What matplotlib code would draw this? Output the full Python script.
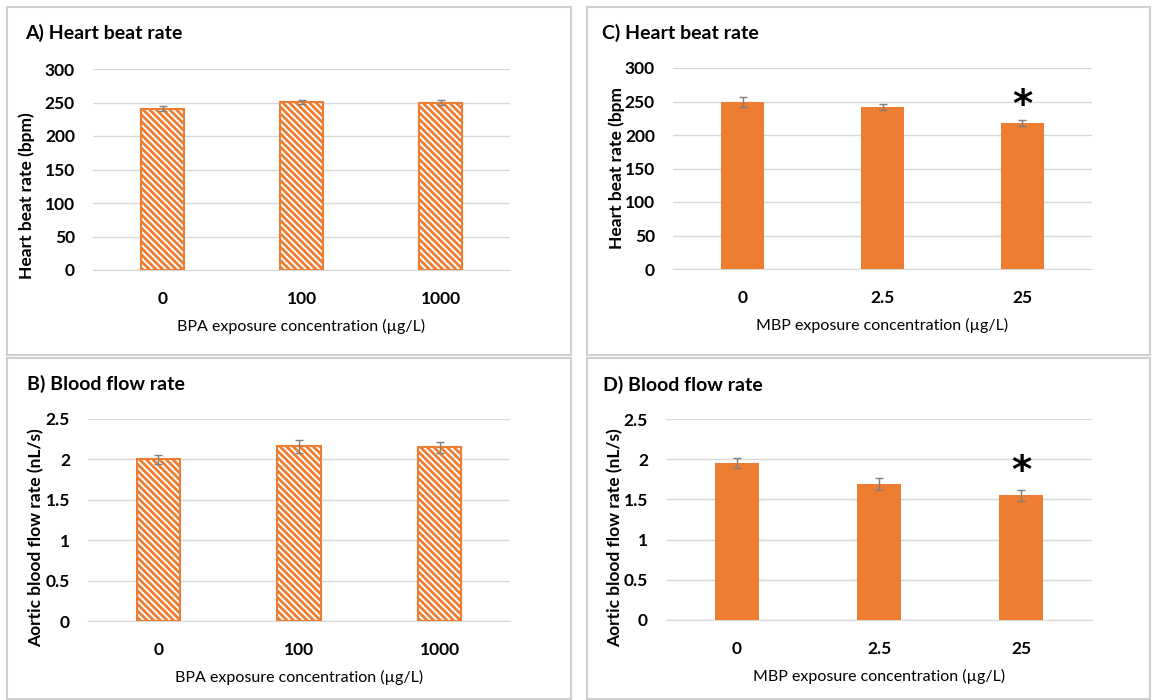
import matplotlib
matplotlib.use('Agg')
import matplotlib.pyplot as plt
from matplotlib.patches import Rectangle

plt.rcParams['font.family'] = ['Lato', 'DejaVu Sans']
plt.rcParams['hatch.linewidth'] = 2.0

# Data
bpa_labels = ['0', '100', '1000']
mbp_labels = ['0', '2.5', '25']

bpa_heart = [241, 251, 250]
bpa_heart_err = [4, 3, 3]
mbp_heart = [249, 242, 218]
mbp_heart_err = [7, 4, 4]

bpa_flow = [2.00, 2.16, 2.15]
bpa_flow_err = [0.06, 0.08, 0.07]
mbp_flow = [1.95, 1.69, 1.55]
mbp_flow_err = [0.06, 0.07, 0.07]

# significance stars (index of bar) for MBP panels
mbp_heart_sig = [2]
mbp_flow_sig = [2]

ORANGE = '#ED7D31'
GRID = '#D9D9D9'
W, H = 1152, 700


def px_axes(fig, x0, y0, x1, y1):
    # axes from pixel box (top-left origin)
    return fig.add_axes([x0 / W, 1 - y1 / H, (x1 - x0) / W, (y1 - y0) / H])


def draw_panel(fig, box, title, title_xy, ylabel, ylabel_xy, xlabel,
               labels, vals, errs, ymax, ystep, hatched, sig=(), sig_off=0.0, yfmt=None):
    ax = px_axes(fig, *box)
    x = list(range(len(vals)))
    if hatched:
        ax.bar(x, vals, width=0.31, facecolor='white', edgecolor=ORANGE,
               hatch='\\' * 5, linewidth=1.5, zorder=3)
    else:
        ax.bar(x, vals, width=0.31, color=ORANGE, zorder=3)
    ax.errorbar(x, vals, yerr=errs, fmt='none', ecolor='#7F7F7F',
                elinewidth=1, capsize=3, capthick=1, zorder=4)
    for i in sig:
        ax.text(i, vals[i] + errs[i] + sig_off, '*', ha='center', va='center',
                fontsize=28, fontweight='bold', family='DejaVu Sans')
    ax.set_xlim(-0.5, len(vals) - 0.5)
    ax.set_ylim(0, ymax)
    ticks = [ystep * k for k in range(int(round(ymax / ystep)) + 1)]
    ax.set_yticks(ticks)
    if yfmt:
        ax.set_yticklabels([yfmt(t) for t in ticks])
    ax.set_xticks(x)
    ax.set_xticklabels(labels)
    ax.grid(axis='y', color=GRID, linewidth=1, zorder=0)
    for s in ['top', 'right', 'left']:
        ax.spines[s].set_visible(False)
    ax.spines['bottom'].set_color(GRID)
    ax.tick_params(length=0, labelsize=12.5)
    ax.tick_params(axis='y', pad=13)
    ax.tick_params(axis='x', pad=15)
    for t in ax.get_xticklabels() + ax.get_yticklabels():
        t.set_fontweight('bold')
    ax.set_xlabel(xlabel, fontsize=11.5, labelpad=9)
    fig.text(title_xy[0] / W, 1 - title_xy[1] / H, title, fontsize=14,
             fontweight='bold', ha='left', va='center')
    fig.text(ylabel_xy[0] / W, 1 - ylabel_xy[1] / H, ylabel, fontsize=12.5,
             fontweight='bold', rotation=90, ha='center', va='center')
    return ax


def fmt_flow(v):
    return '0' if v == 0 else ('%g' % v)


fig = plt.figure(figsize=(W / 100, H / 100), dpi=100)

# panel frames
for (x0, y0, x1, y1) in [(7, 7, 571, 355), (587, 7, 1150, 355),
                         (7, 358, 571, 699), (587, 358, 1150, 699)]:
    fig.patches.append(Rectangle((x0 / W, 1 - y1 / H), (x1 - x0) / W, (y1 - y0) / H,
                                 transform=fig.transFigure, fill=False,
                                 edgecolor='#D0D0D0', linewidth=1.5))

draw_panel(fig, (93, 69, 510, 270), 'A) Heart beat rate', (25, 33),
           'Heart beat rate (bpm)', (27, 196), 'BPA exposure concentration (µg/L)',
           bpa_labels, bpa_heart, bpa_heart_err, 300, 50, True)

draw_panel(fig, (673, 68, 1092, 269), 'C) Heart beat rate', (602, 33),
           'Heart beat rate (bpm', (617, 168), 'MBP exposure concentration (µg/L)',
           mbp_labels, mbp_heart, mbp_heart_err, 300, 50, False,
           sig=mbp_heart_sig, sig_off=22)

draw_panel(fig, (88, 419, 510, 621), 'B) Blood flow rate', (27, 384),
           'Aortic blood flow rate (nL/s)', (36, 538), 'BPA exposure concentration (µg/L)',
           bpa_labels, bpa_flow, bpa_flow_err, 2.5, 0.5, True, yfmt=fmt_flow)

draw_panel(fig, (666, 419, 1092, 620), 'D) Blood flow rate', (603, 385),
           'Aortic blood flow rate (nL/s)', (615, 538), 'MBP exposure concentration (µg/L)',
           mbp_labels, mbp_flow, mbp_flow_err, 2.5, 0.5, False, yfmt=fmt_flow,
           sig=mbp_flow_sig, sig_off=0.22)

fig.savefig('out.png', dpi=100)
